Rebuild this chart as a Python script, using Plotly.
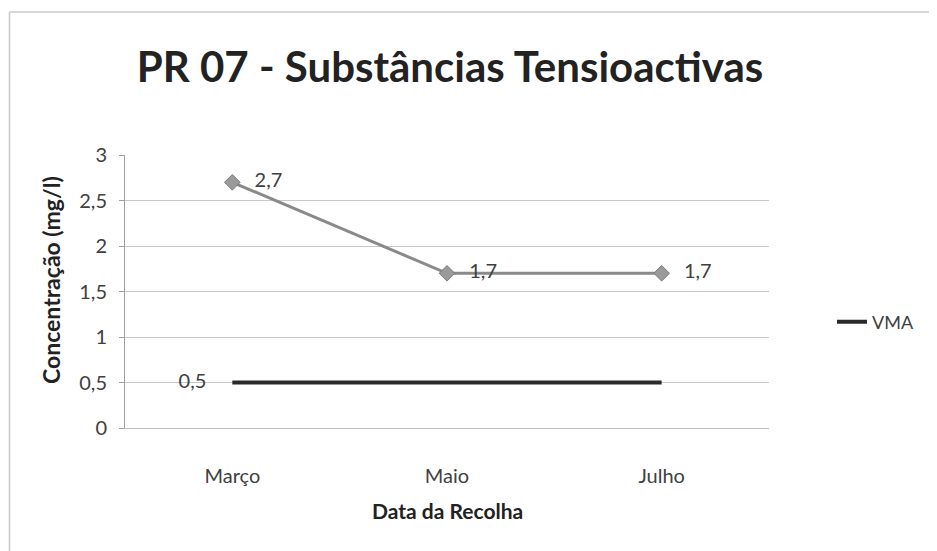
import plotly.graph_objects as go

categories = ["Março", "Maio", "Julho"]
concentracao = [2.7, 1.7, 1.7]
vma = [0.5, 0.5, 0.5]
y_ticks = [0, 0.5, 1, 1.5, 2, 2.5, 3]
y_tick_labels = ["0", "0,5", "1", "1,5", "2", "2,5", "3"]


def fmt(v):
    return f"{v:.1f}".replace(".", ",")


# page body adds an 8px offset; positions below are in screenshot coordinates
OFF = 8
W, H = 937 - OFF, 551 - OFF
L, R, T, B = 125, 769, 155, 428
pw, ph = R - L, B - T


def px(x):
    return (x - L) / pw


def py(y):
    return (B - y) / ph


FONT = "Lato"
LABEL = "#404040"
fig = go.Figure()

fig.add_trace(go.Scatter(
    x=categories, y=vma, mode="lines", name="VMA",
    line=dict(color="#2a2a2a", width=4),
    showlegend=True, hoverinfo="skip",
))
fig.add_trace(go.Scatter(
    x=categories[:1], y=vma[:1], mode="markers+text", name="VMA label",
    marker=dict(size=40, color="rgba(0,0,0,0)"),
    text=[fmt(vma[0])], textposition="middle left",
    textfont=dict(family=FONT, size=20, color=LABEL),
    showlegend=False, cliponaxis=False, hoverinfo="skip",
))

fig.add_trace(go.Scatter(
    x=categories, y=concentracao, mode="lines+markers", name="PR 07",
    line=dict(color="#8a8a8a", width=3),
    marker=dict(symbol="diamond", size=12, color="#9a9a9a",
                line=dict(color="#7a7a7a", width=1)),
    showlegend=False, cliponaxis=False,
))
fig.add_trace(go.Scatter(
    x=categories, y=concentracao, mode="markers+text", name="PR 07 labels",
    marker=dict(size=34, color="rgba(0,0,0,0)"),
    text=[fmt(v) for v in concentracao], textposition="middle right",
    textfont=dict(family=FONT, size=20, color=LABEL),
    showlegend=False, cliponaxis=False, hoverinfo="skip",
))

fig.update_layout(
    width=W, height=H,
    margin=dict(l=L - OFF, r=W - (R - OFF), t=T - OFF, b=H - (B - OFF), pad=0),
    paper_bgcolor="white", plot_bgcolor="white",
    font=dict(family=FONT, size=20, color=LABEL),
    title=dict(text="<b>PR 07 - Substâncias Tensioactivas</b>",
               x=(450 - OFF) / W, xanchor="center",
               y=1 - (67 - OFF) / H, yanchor="middle",
               font=dict(family=FONT, size=42, color="#222222")),
    xaxis=dict(type="category", range=[-0.5, 2.5], showgrid=False,
               showline=True, linecolor="#bdbdbd", linewidth=1,
               ticks="", ticklabelstandoff=30,
               tickfont=dict(family=FONT, size=20, color=LABEL)),
    yaxis=dict(range=[0, 3], tickvals=y_ticks, ticktext=y_tick_labels,
               showgrid=True, gridcolor="#c8c8c8", gridwidth=1,
               showline=True, linecolor="#a0a0a0", linewidth=1,
               ticks="outside", ticklen=5, tickcolor="#a0a0a0",
               ticklabelstandoff=8, zeroline=False,
               tickfont=dict(family=FONT, size=20, color=LABEL)),
    legend=dict(x=px(832), y=py(322), xanchor="left", yanchor="middle",
                font=dict(family=FONT, size=18, color=LABEL),
                bgcolor="rgba(0,0,0,0)"),
    annotations=[
        dict(text="<b>Concentração (mg/l)</b>", x=px(51), y=py(280),
             xref="paper", yref="paper", showarrow=False, textangle=-90,
             xanchor="center", yanchor="middle",
             font=dict(family=FONT, size=23, color="#222222")),
        dict(text="<b>Data da Recolha</b>", x=px(447), y=py(510),
             xref="paper", yref="paper", showarrow=False,
             xanchor="center", yanchor="middle",
             font=dict(family=FONT, size=21, color="#222222")),
    ],
    shapes=[
        dict(type="line", xref="paper", yref="paper", x0=px(9.5), x1=px(936),
             y0=py(12), y1=py(12), line=dict(color="#c8c8c8", width=1.5)),
        dict(type="line", xref="paper", yref="paper", x0=px(9.5), x1=px(9.5),
             y0=py(12), y1=py(551), line=dict(color="#c8c8c8", width=1.5)),
    ],
)

fig.write_html("out.html")
